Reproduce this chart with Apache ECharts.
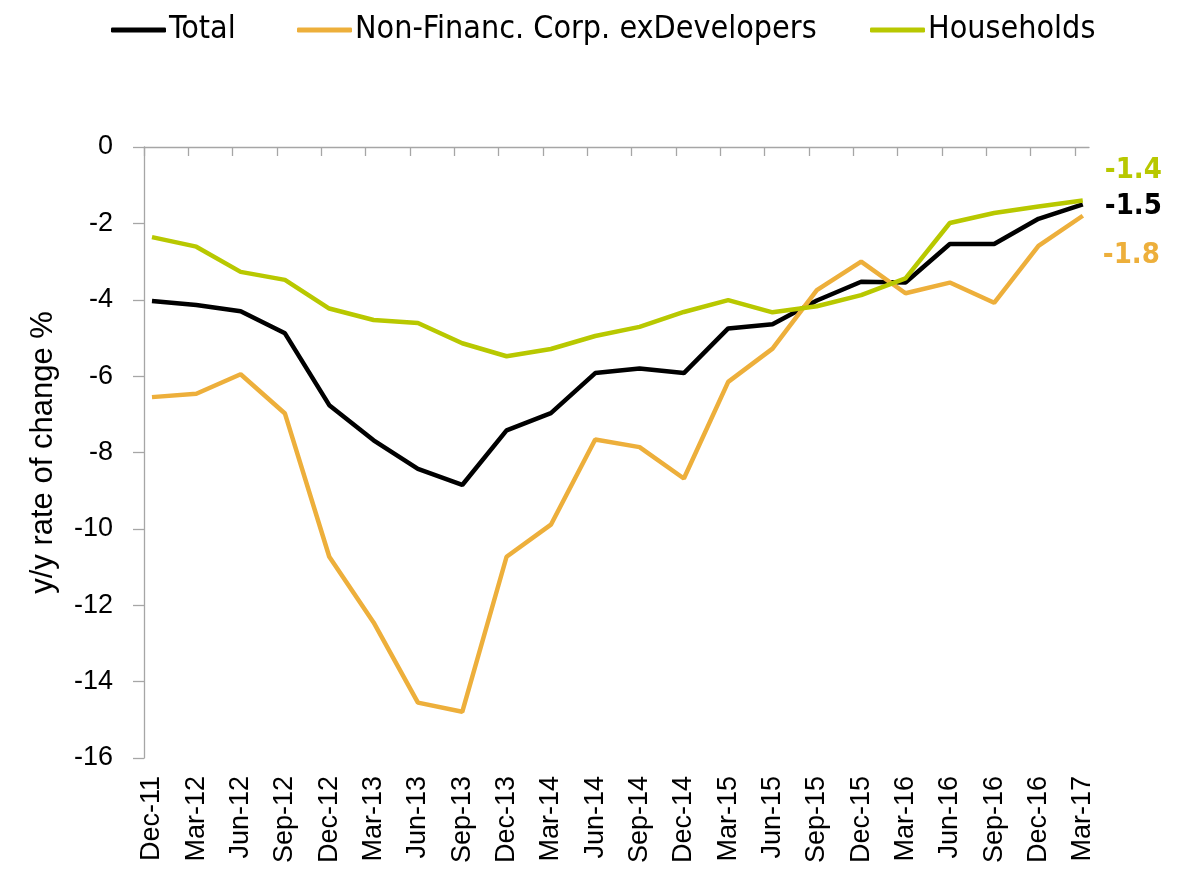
<!DOCTYPE html>
<html>
<head>
<meta charset="utf-8">
<script src="https://cdn.jsdelivr.net/npm/echarts@6/dist/echarts.min.js"></script>
<style>
html,body{margin:0;padding:0;background:#fff;}
#chart{width:1185px;height:869px;}
</style>
</head>
<body>
<div id="chart"></div>
<script>
var categories = ['Dec-11','Mar-12','Jun-12','Sep-12','Dec-12','Mar-13','Jun-13','Sep-13','Dec-13','Mar-14','Jun-14','Sep-14','Dec-14','Mar-15','Jun-15','Sep-15','Dec-15','Mar-16','Jun-16','Sep-16','Dec-16','Mar-17'];
var total = [-4.03,-4.14,-4.30,-4.88,-6.76,-7.68,-8.43,-8.85,-7.42,-6.97,-5.92,-5.80,-5.92,-4.75,-4.64,-4.02,-3.53,-3.55,-2.54,-2.54,-1.88,-1.5];
var nonFin = [-6.55,-6.46,-5.95,-6.98,-10.73,-12.45,-14.55,-14.79,-10.73,-9.89,-7.66,-7.86,-8.68,-6.15,-5.28,-3.75,-3.00,-3.83,-3.55,-4.08,-2.59,-1.8];
var households = [-2.36,-2.61,-3.27,-3.48,-4.23,-4.53,-4.61,-5.14,-5.48,-5.29,-4.95,-4.71,-4.32,-4.01,-4.33,-4.17,-3.88,-3.44,-1.99,-1.73,-1.56,-1.4];
var yTicks = [0,-2,-4,-6,-8,-10,-12,-14,-16];
var seriesNames = ['Total','Non-Financ. Corp. exDevelopers','Households'];

var FONT_LEG = "'DejaVu Sans Condensed','DejaVu Sans',sans-serif";
var FONT_AX = "'Liberation Sans',Arial,sans-serif";
var colors = ['#000000','#EDAF3B','#B8C800'];
var shift = 0.18;
function pts(arr){ return arr.map(function(v,i){ return [i, v]; }); }
var tickVals = categories.map(function(c,i){ return i - shift; });
var labelVals = categories.map(function(c,i){ return i; });

var chart = echarts.init(document.getElementById('chart'));
function mk(name, data, color, offset){
  return {
    name: name, type: 'line', data: pts(data), symbol: 'none',
    lineStyle: {color: color, width: 4.5}, itemStyle: {color: color},
    xAxisIndex: 0, animation: false,
    endLabel: {show: true, distance: 0, offset: offset, color: color,
      fontFamily: FONT_LEG, fontWeight: 'bold', fontSize: 29,
      formatter: function(p){ return p.value[1].toFixed(1); }}
  };
}
function leg(name, left){
  return {
    left: left, top: 14, padding: 0, icon: 'roundRect', itemWidth: 55, itemHeight: 5,
    textStyle: {fontSize: 32, color: '#000', fontFamily: FONT_LEG, padding: [0,0,0,-2]},
    data: [name]
  };
}
chart.setOption({
  animation: false,
  legend: [leg(seriesNames[0], 111), leg(seriesNames[1], 297), leg(seriesNames[2], 870)],
  grid: {left: 144, top: 147, right: 96, bottom: 111, containLabel: false},
  xAxis: [{
    type: 'value', position: 'top', min: -shift, max: 21.14,
    axisLine: {show: true, onZero: false, lineStyle: {color: '#A6A6A6', width: 1.3}},
    axisTick: {show: true, inside: true, length: 9, customValues: tickVals, lineStyle: {color: '#A6A6A6', width: 1.3}},
    axisLabel: {show: false}, splitLine: {show: false}
  },{
    type: 'value', position: 'bottom', min: -shift, max: 21.14,
    axisLine: {show: false, onZero: false}, axisTick: {show: false}, splitLine: {show: false},
    axisLabel: {show: true, rotate: 90, margin: 18, customValues: labelVals,
      fontSize: 27, color: '#000', fontFamily: FONT_AX,
      formatter: function(v){ return categories[Math.round(v)] || ''; }}
  }],
  yAxis: {
    type: 'value', min: yTicks[yTicks.length-1], max: yTicks[0], interval: 2,
    name: 'y/y rate of change %', nameLocation: 'middle', nameGap: 85,
    nameTextStyle: {fontSize: 31, color: '#000', fontFamily: FONT_AX},
    axisLine: {show: true, onZero: false, lineStyle: {color: '#A6A6A6', width: 1.3}},
    axisTick: {show: true, length: 11, lineStyle: {color: '#A6A6A6', width: 1.3}},
    axisLabel: {fontSize: 27, color: '#000', margin: 31, fontFamily: FONT_AX,
      formatter: function(v){ return String(v); }},
    splitLine: {show: false}
  },
  series: [
    mk(seriesNames[0], total, colors[0], [22, 2]),
    mk(seriesNames[1], nonFin, colors[1], [20, 40]),
    mk(seriesNames[2], households, colors[2], [22, -30])
  ]
});
</script>
</body>
</html>
